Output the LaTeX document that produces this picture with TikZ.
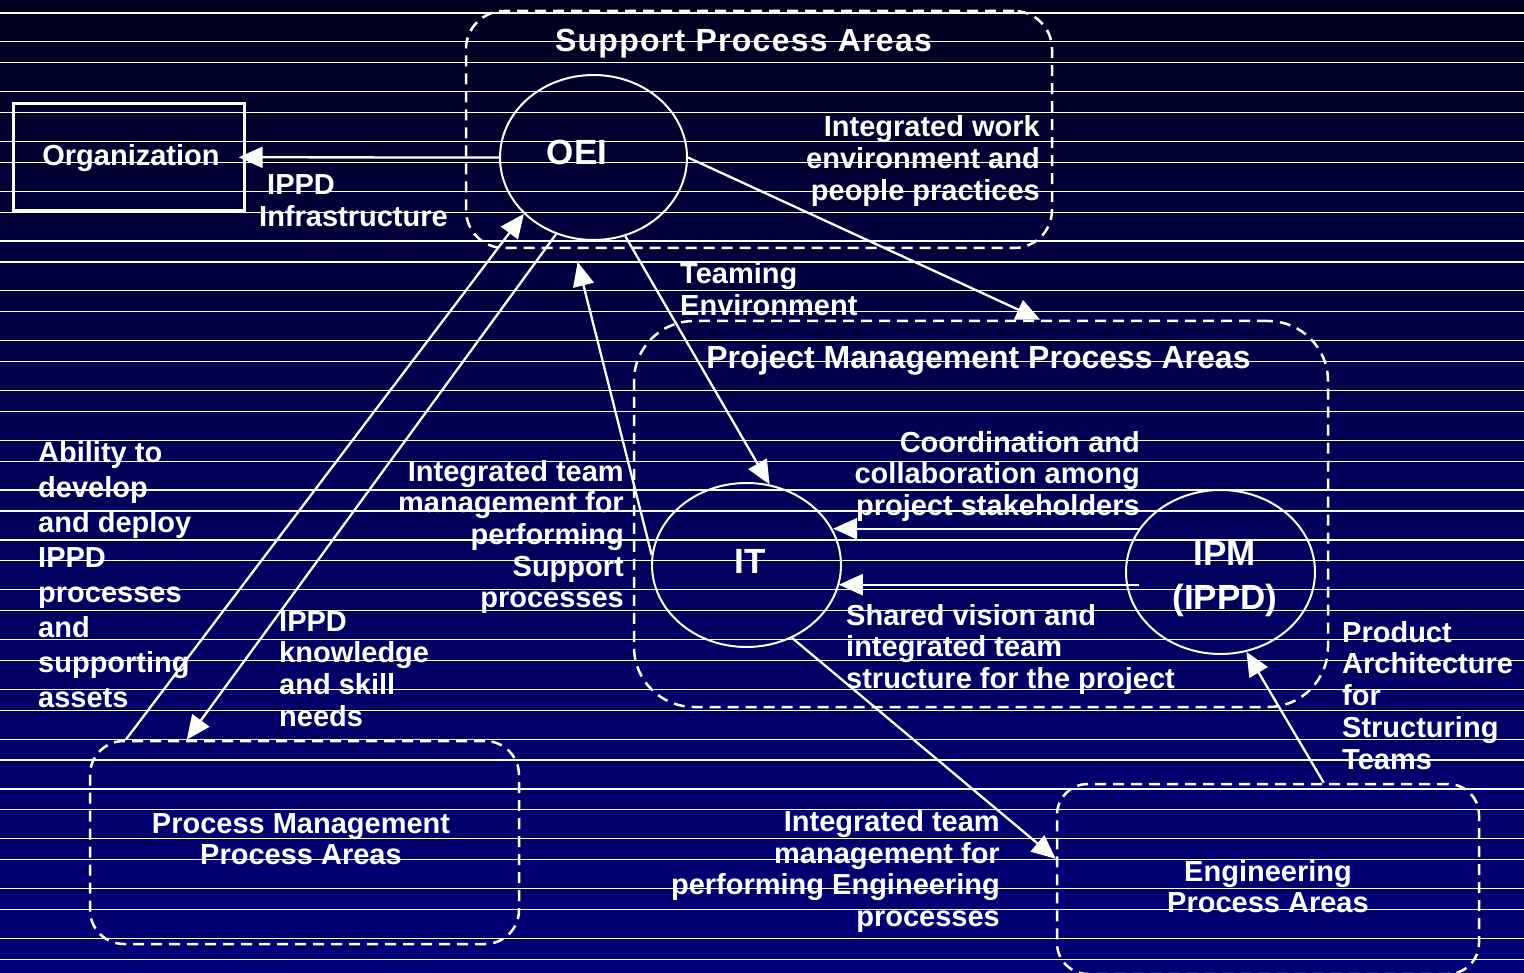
\documentclass[tikz,border=0pt]{standalone}
\usepackage{fontspec}
\setmainfont{Liberation Sans}
\usetikzlibrary{shapes.geometric,arrows.meta,calc}
\definecolor{bgtop}{RGB}{2,0,30}
\definecolor{bgmid}{RGB}{0,0,90}
\definecolor{bgbot}{RGB}{0,0,120}
\tikzset{
  txt/.style={font=\bfseries\fontsize{29}{31.7}\selectfont, text=white, inner sep=0pt},
  bigtxt/.style={font=\bfseries\fontsize{35}{44}\selectfont, text=white, inner sep=0pt},
  titletxt/.style={font=\bfseries\fontsize{32}{36}\selectfont, text=white, inner sep=0pt},
  areabox/.style={draw=white, line width=2.5pt, dash pattern=on 11pt off 7pt, inner sep=0pt},
  ell/.style={ellipse, draw=white, line width=2pt, inner sep=0pt},
  arr/.style={draw=white, line width=2.3pt, -{Triangle[length=24pt,width=21pt]}},
  bgline/.style={white, line width=1.2pt}
}
\begin{document}
\begin{tikzpicture}[x=1pt,y=-1pt]
\useasboundingbox (0,0) rectangle (1524,973);
\shade[top color=bgtop, bottom color=bgbot, middle color=bgmid] (0,0) rectangle (1524,973);
\foreach \k in {0,...,38} {
  \pgfmathsetmacro\yy{13+24.9*\k+4*mod(\k,2)}
  \draw[bgline] (0,\yy) -- (1524,\yy);
}
% area boxes
\node[areabox, rounded corners=38pt, minimum width=586pt, minimum height=237pt] (spa) at (759,129.5) {};
\node[areabox, rounded corners=60pt, minimum width=694pt, minimum height=386pt] (pmpa) at (981,514) {};
\node[areabox, rounded corners=34pt, minimum width=429pt, minimum height=203pt] (pm) at (304.5,842.5) {};
\node[areabox, rounded corners=31pt, minimum width=422pt, minimum height=190pt] (eng) at (1268,879) {};
% organization
\node[draw=white, line width=3pt, minimum width=231pt, minimum height=107pt, inner sep=0pt] (org) at (128.7,157.3) {};
\node[txt, anchor=base] (orgtxt) at (131,166) {Organization};
% ellipses
\node[ell, minimum width=187pt, minimum height=165pt] (oei) at (593.5,157.5) {};
\node[ell, minimum width=189pt, minimum height=164pt] (it) at (746.5,565) {};
\node[ell, minimum width=189pt, minimum height=164pt] (ipm) at (1220.5,572) {};
\node[bigtxt, anchor=base] (oeitxt) at (577,165) {OEI};
\node[bigtxt, anchor=base] (ittxt) at (750,573) {IT};
\node[bigtxt, anchor=base, align=center] (ipmtxt) at (1225,609) {IPM\\(IPPD)};
% titles
\node[titletxt, anchor=base, font=\bfseries\fontsize{32}{36}\selectfont\addfontfeature{LetterSpace=4}] (spatitle) at (743.5,52) {Support Process Areas};
\node[titletxt, anchor=base] (pmpatitle) at (978.5,369) {Project Management Process Areas};
\node[txt, anchor=base, align=center] (pmtitle) at (301,864.7) {Process Management\\Process Areas};
\node[txt, anchor=base, align=center] (engtitle) at (1268,912.7) {Engineering\\Process Areas};
% labels (anchored at the baseline of the last line)
\node[txt, anchor=base west, align=left] (ippdinfra) at (259,226.7) {\hspace*{8pt}IPPD\\Infrastructure};
\node[txt, anchor=base east, align=right] (iwork) at (1040,200.4) {Integrated work\\environment and\\people practices};
\node[txt, anchor=base west, align=left] (teaming) at (680,315.7) {Teaming\\Environment};
\node[txt, anchor=base east, align=right] (itsupport) at (624,607.8) {Integrated team\\management for\\performing\\Support\\processes};
\node[txt, anchor=base east, align=right] (coord) at (1140,515.4) {Coordination and\\collaboration among\\project stakeholders};
\node[txt, anchor=base west, align=left] (shared) at (846,688.4) {Shared vision and\\integrated team\\structure for the project};
\node[txt, anchor=base west, align=left, font=\bfseries\fontsize{29}{35}\selectfont] (ability) at (38,707) {Ability to\\develop\\and deploy\\IPPD\\processes\\and\\supporting\\assets};
\node[txt, anchor=base west, align=left] (knowledge) at (279,726.1) {IPPD\\knowledge\\and skill\\needs};
\node[txt, anchor=base west, align=left] (product) at (1342,769) {Product\\Architecture\\for\\Structuring\\Teams};
\node[txt, anchor=base east, align=right] (iteng) at (1000,926.5) {Integrated team\\management for\\performing Engineering\\processes};
% connectors
\draw[arr] (oei.180) -- ($(org.east)+(-7,0)$);
\draw[arr] (oei.0) -- ($(pmpa.north west)!0.585!(pmpa.north east)$);
\draw[arr] (oei.-68) -- (it.74);
\draw[arr, shorten >=24pt] (it.174) -- (oei.-105);
\draw[arr] ($(pm.north west)+(37,0)$) -- (oei.-141);
\draw[arr] (oei.-116) -- ($(pm.north west)+(98,0)$);
\draw[arr] (ipm.152.6) -- (it.22.3 |- ipm.152.6);
\coordinate (lowstart) at ($(ipm.152.6)+(0,56)$);
\draw[arr] (lowstart) -- (it.-13 |- lowstart);
\draw[arr] (it.-58) -- ($(eng.north west)+(0,76)$);
\draw[arr] ($(eng.north west)+(268,0)$) -- (ipm.-72);
\end{tikzpicture}
\end{document}
